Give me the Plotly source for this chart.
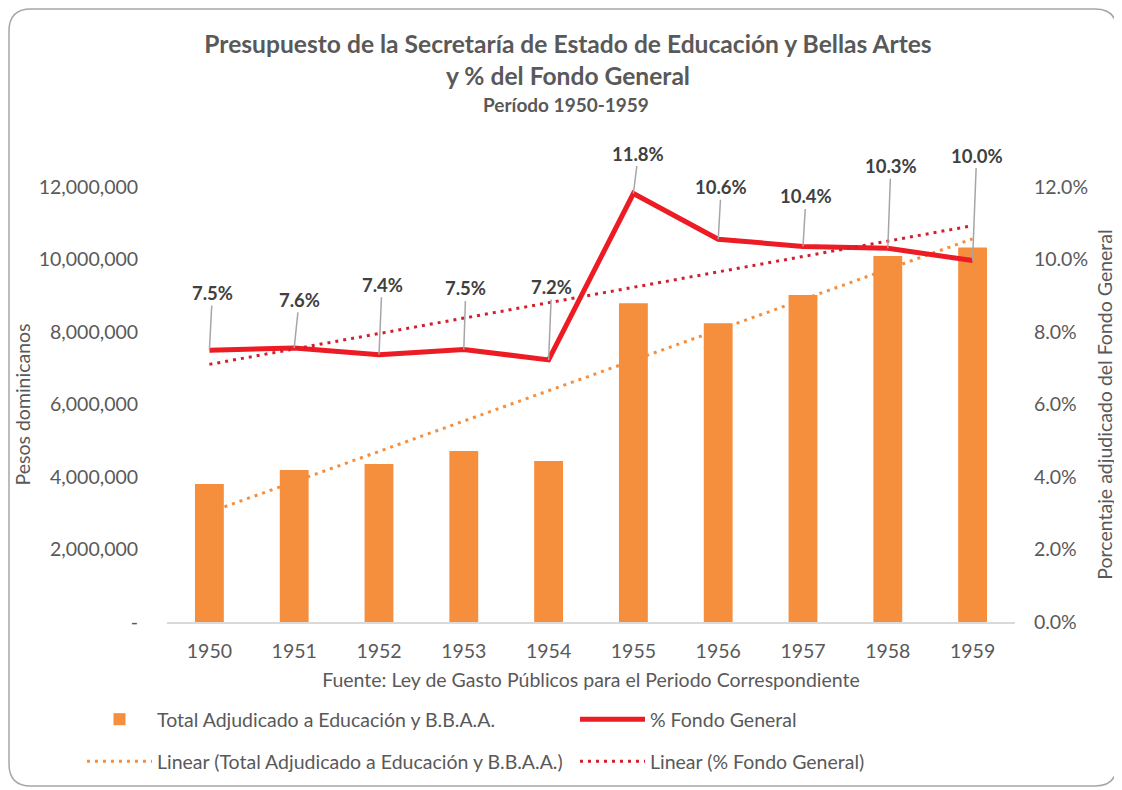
import numpy as np
import plotly.graph_objects as go

# ---------------- data ----------------
years = ["1950", "1951", "1952", "1953", "1954", "1955", "1956", "1957", "1958", "1959"]
total_educacion = [3810000, 4190000, 4360000, 4720000, 4440000, 8790000, 8240000, 9020000, 10100000, 10330000]
pct_fondo = [7.50, 7.56, 7.37, 7.52, 7.23, 11.82, 10.56, 10.36, 10.31, 9.97]
left_ticks = [0, 2000000, 4000000, 6000000, 8000000, 10000000, 12000000]
left_tick_labels = ["-", "2,000,000", "4,000,000", "6,000,000", "8,000,000", "10,000,000", "12,000,000"]
right_ticks = [0, 2, 4, 6, 8, 10, 12]
right_tick_labels = ["0.0%", "2.0%", "4.0%", "6.0%", "8.0%", "10.0%", "12.0%"]

# label offsets (px) for the data callouts
label_dx = [3, 5, 3, 2, 3, 5, 3, 3, 3, 4]
label_dy = [-57, -48, -70, -61, -73, -40, -52, -50, -82, -105]

# linear trend lines (as in Excel)
xi = np.arange(len(years))
c1 = np.polyfit(xi, total_educacion, 1)
c2 = np.polyfit(xi, pct_fondo, 1)
trend_total = [float(v) for v in np.polyval(c1, xi)]
trend_pct = [float(v) for v in np.polyval(c2, xi)]

# ---------------- geometry (page px -> figure px: minus 8 for body margin) ----------------
OFF = 8
FW, FH = 1114, 782
L, R, T, B = 167 - OFF, 1015 - OFF, 187 - OFF, 622 - OFF
PW, PH = R - L, B - T


def px(x):
    return (x - OFF - L) / PW


def py(y):
    return (B - (y - OFF)) / PH


FONT = "Lato"
GREY = "#595959"
ORANGE = "#F58E3D"
RED = "#ED1C24"
DRED = "#D0202E"
FS = 19.5

fig = go.Figure()

fig.add_trace(go.Bar(
    x=years, y=total_educacion, name="Total Adjudicado a Educación y B.B.A.A.",
    marker=dict(color=ORANGE, line=dict(width=0)), width=0.34, legend="legend",
))
fig.add_trace(go.Scatter(
    x=years, y=pct_fondo, name="% Fondo General", yaxis="y2", mode="lines",
    line=dict(color=RED, width=5), legend="legend",
))
fig.add_trace(go.Scatter(
    x=years, y=trend_total, name="Linear (Total Adjudicado a Educación y B.B.A.A.)", mode="lines",
    line=dict(color=ORANGE, width=3, dash="3px,5px"), legend="legend2",
))
fig.add_trace(go.Scatter(
    x=years, y=trend_pct, name="Linear (% Fondo General)", yaxis="y2", mode="lines",
    line=dict(color=DRED, width=3, dash="3px,5px"), legend="legend2",
))

annotations = []
for i, (v, dx, dy) in enumerate(zip(pct_fondo, label_dx, label_dy)):
    annotations.append(dict(
        x=i, y=v, xref="x", yref="y2", text="<b>%.1f%%</b>" % v, showarrow=True,
        arrowhead=0, arrowwidth=1.5, arrowcolor="#A6A6A6", ax=dx, ay=dy,
        font=dict(family=FONT, size=18.5, color="#404040"),
    ))

# subtitle
annotations.append(dict(
    x=px(566), y=py(104), xref="paper", yref="paper", showarrow=False,
    text="<b>Período 1950-1959</b>", font=dict(family=FONT, size=19, color=GREY),
    xanchor="center", yanchor="middle",
))

# rounded outer border
bx0, bx1, by0, by1, r = 9, 1117, 9, 786, 22
path = (
    f"M{px(bx0 + r)},{py(by0)} L{px(bx1 - r)},{py(by0)} Q{px(bx1)},{py(by0)} {px(bx1)},{py(by0 + r)} "
    f"L{px(bx1)},{py(by1 - r)} Q{px(bx1)},{py(by1)} {px(bx1 - r)},{py(by1)} "
    f"L{px(bx0 + r)},{py(by1)} Q{px(bx0)},{py(by1)} {px(bx0)},{py(by1 - r)} "
    f"L{px(bx0)},{py(by0 + r)} Q{px(bx0)},{py(by0)} {px(bx0 + r)},{py(by0)} Z"
)
shapes = [dict(type="path", xref="paper", yref="paper", path=path,
               line=dict(color="#A6A6A6", width=1.5), layer="below")]

legend_common = dict(
    orientation="h", xref="paper", x=px(82), yref="paper",
    xanchor="left", yanchor="top", entrywidth=413, itemwidth=65,
    font=dict(size=FS, color=GREY), bgcolor="rgba(0,0,0,0)", traceorder="normal",
)

fig.update_layout(
    width=FW, height=FH,
    margin=dict(l=L, r=FW - R, t=T, b=FH - B, autoexpand=False),
    paper_bgcolor="white", plot_bgcolor="white",
    font=dict(family=FONT, color=GREY, size=FS),
    title=dict(
        text="<b>Presupuesto de la Secretaría de Estado de Educación y Bellas Artes<br>y % del Fondo General</b>",
        x=(568 - OFF) / FW, xref="container", xanchor="center", y=1 - 45 / FH, yref="container", yanchor="top",
        font=dict(family=FONT, size=24.6, color=GREY),
    ),
    xaxis=dict(
        type="category", showgrid=False, showline=True, linecolor="#D9D9D9", linewidth=1.5,
        ticks="outside", ticklen=11, tickcolor="rgba(0,0,0,0)", tickfont=dict(size=FS, color=GREY),
        title=dict(text="Fuente: Ley de Gasto Públicos para el Periodo Correspondiente",
                   font=dict(size=FS, color=GREY), standoff=12),
    ),
    yaxis=dict(
        range=[0, 12000000], tickmode="array", tickvals=left_ticks, ticktext=left_tick_labels,
        showgrid=False, zeroline=False, showline=False,
        ticks="outside", ticklen=24, tickcolor="rgba(0,0,0,0)",
        tickfont=dict(size=FS, color=GREY),
        title=dict(text="Pesos dominicanos", font=dict(size=FS, color=GREY), standoff=2),
    ),
    yaxis2=dict(
        overlaying="y", side="right", anchor="x", range=[0, 12], tickmode="array",
        tickvals=right_ticks, ticktext=right_tick_labels,
        showgrid=False, zeroline=False, showline=False,
        ticks="outside", ticklen=14, tickcolor="rgba(0,0,0,0)",
        tickfont=dict(size=FS, color=GREY),
        title=dict(text="Porcentaje adjudicado del Fondo General", font=dict(size=FS, color=GREY), standoff=11),
    ),
    legend=dict(legend_common, y=py(700)),
    legend2=dict(legend_common, y=py(742)),
    annotations=annotations,
    shapes=shapes,
)

fig.write_html("out.html")
